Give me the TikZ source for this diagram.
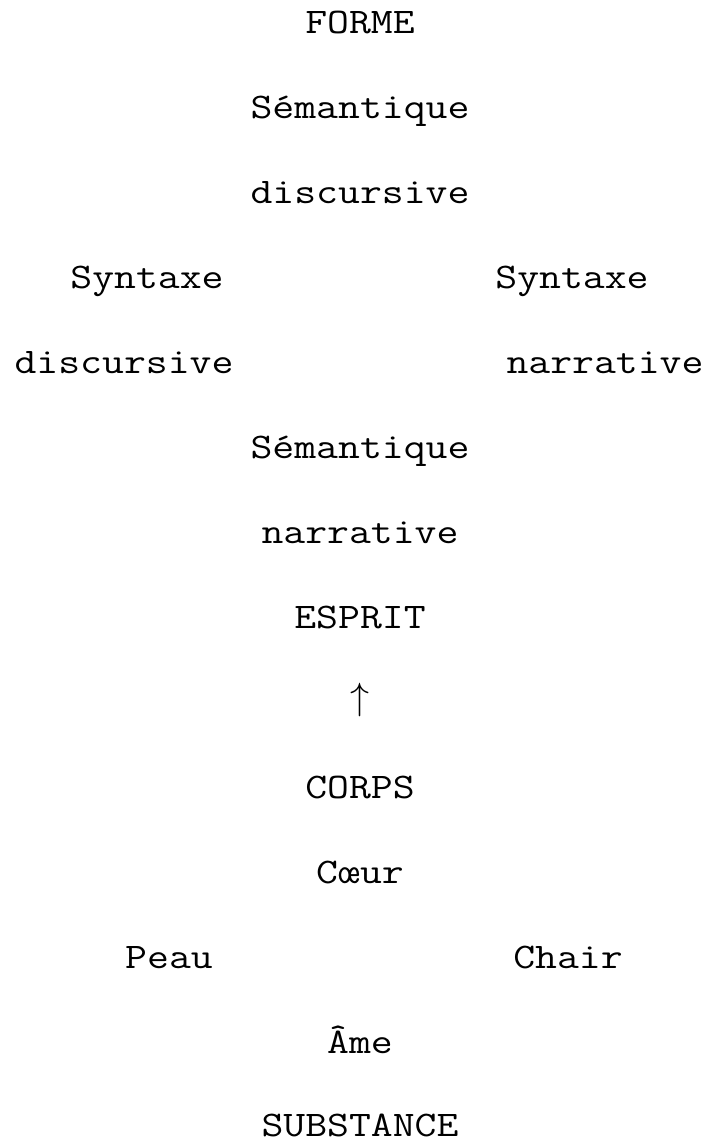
\documentclass[tikz,border=0pt]{standalone}
\usepackage{fontspec}
\usepackage{graphicx}

\newcommand{\wide}[1]{\scalebox{1.18}[1]{#1}}

\begin{document}
\begin{tikzpicture}[x=1pt,y=-1pt]
  \tikzstyle{word}=[font=\ttfamily\fontsize{36}{36}\selectfont,anchor=base,
                    inner sep=0pt,text=black]
  \tikzstyle{pointer}=[font=\fontsize{10}{12}\selectfont,inner sep=0pt,
                       text=black]
  \useasboundingbox (0,0) rectangle (711,1144);

  \node[word] (forme)     at (360,  33) {\wide{FORME}};
  \node[word] (semdisc)   at (360, 118) {\wide{Sémantique}};
  \node[word] (semdisc2)  at (360, 203) {\wide{discursive}};
  \node[word] (syndisc)   at (147, 288) {\wide{Syntaxe}};
  \node[word] (synnarr)   at (572, 288) {\wide{Syntaxe}};
  \node[word] (syndisc2)  at (124, 373) {\wide{discursive}};
  \node[word] (synnarr2)  at (605, 373) {\wide{narrative}};
  \node[word] (semnarr)   at (360, 458) {\wide{Sémantique}};
  \node[word] (semnarr2)  at (360, 543) {\wide{narrative}};
  \node[word] (esprit)    at (360, 628) {\wide{ESPRIT}};
  \node[pointer] (up)     at (360, 700) {\scalebox{3.8}{$\uparrow$}};
  \node[word] (corps)     at (360, 798) {\wide{CORPS}};
  \node[word] (coeur)     at (360, 883) {\wide{Cœur}};
  \node[word] (peau)      at (169, 968) {\wide{Peau}};
  \node[word] (chair)     at (568, 968) {\wide{Chair}};
  \node[word] (ame)       at (360,1053) {\wide{Âme}};
  \node[word] (substance) at (360,1136) {\wide{SUBSTANCE}};
\end{tikzpicture}
\end{document}
